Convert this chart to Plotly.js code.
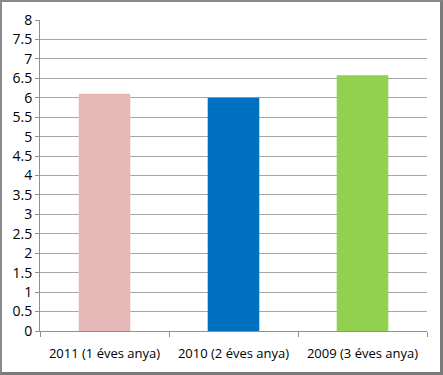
<!DOCTYPE html>
<html><head><meta charset="utf-8">
<script src="https://cdn.plot.ly/plotly-3.0.1.min.js"></script>
<style>
html,body{margin:0;padding:0;background:#fff;}
#wrap{position:absolute;left:0;top:0;width:443px;height:375px;box-sizing:border-box;border:2px solid #8a8a8a;border-right:3px solid #7a7a7a;border-bottom:3px solid #7a7a7a;}
#chart{position:absolute;left:0;top:0;width:443px;height:375px;}
</style></head>
<body>
<div id="chart"></div>
<div id="wrap"></div>
<script>
const categories = ["2011 (1 éves anya)", "2010 (2 éves anya)", "2009 (3 éves anya)"];
const values = [6.1, 6.0, 6.58];
const colors = ["#e6b9b8", "#0070c0", "#92d050"];
const yTicks = [0,0.5,1,1.5,2,2.5,3,3.5,4,4.5,5,5.5,6,6.5,7,7.5,8];

Plotly.newPlot("chart", [{
  type: "bar", x: categories, y: values,
  marker: {color: colors}, hoverinfo: "none"
}], {
  width: 443, height: 375,
  margin: {l: 40, r: 16, t: 20, b: 44},
  bargap: 0.6,
  paper_bgcolor: "#fff", plot_bgcolor: "#fff",
  font: {family: "Open Sans, sans-serif", size: 12, color: "#000"},
  showlegend: false,
  xaxis: {
    showline: true, linecolor: "#909090", linewidth: 1,
    ticks: "outside", tickson: "boundaries", ticklen: 5, tickcolor: "#909090",
    tickfont: {size: 13}, showgrid: false, ticklabelstandoff: 10
  },
  yaxis: {
    range: [0, 8], tickvals: yTicks, ticktext: yTicks.map(String),
    showline: true, linecolor: "#909090", linewidth: 1,
    ticks: "outside", ticklen: 4, tickcolor: "#909090",
    showgrid: true, gridcolor: "#a6a6a6", gridwidth: 1,
    zeroline: false, tickfont: {size: 14}
  }
}, {staticPlot: true});
</script>
</body></html>
